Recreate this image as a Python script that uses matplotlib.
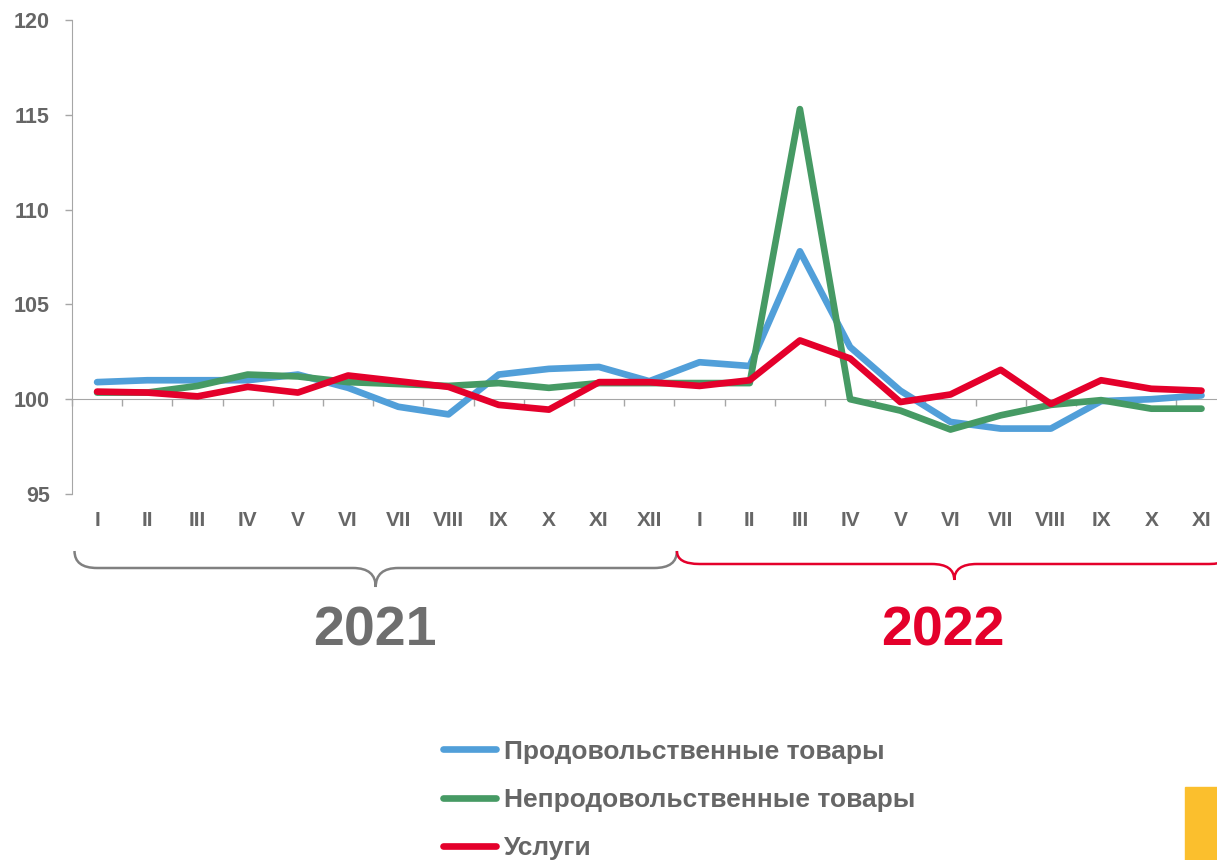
"""
Price indices by month: food, non-food, services (2021-2022).
"""

import matplotlib.pyplot as plt
import matplotlib.transforms as mtransforms
from matplotlib.path import Path
from matplotlib.patches import PathPatch, Rectangle

# data
months = ['I', 'II', 'III', 'IV', 'V', 'VI', 'VII', 'VIII', 'IX', 'X', 'XI', 'XII',
          'I', 'II', 'III', 'IV', 'V', 'VI', 'VII', 'VIII', 'IX', 'X', 'XI']
food = [100.9, 101.0, 101.0, 101.0, 101.3, 100.6, 99.6, 99.2, 101.3, 101.6, 101.7, 100.95,
        101.95, 101.75, 107.8, 102.75, 100.45, 98.8, 98.45, 98.45, 99.9, 100.0, 100.2]
nonfood = [100.35, 100.35, 100.7, 101.3, 101.2, 100.9, 100.8, 100.7, 100.85, 100.6, 100.85, 100.85,
           100.85, 100.85, 115.3, 100.0, 99.4, 98.4, 99.15, 99.7, 99.95, 99.5, 99.5]
services = [100.4, 100.35, 100.15, 100.65, 100.35, 101.25, 100.95, 100.65, 99.7, 99.45, 100.9, 100.9,
            100.7, 101.0, 103.1, 102.15, 99.85, 100.25, 101.55, 99.75, 101.0, 100.55, 100.45]
labels = ['Продовольственные товары', 'Непродовольственные товары', 'Услуги']
years = ['2021', '2022']

blue = '#519FD9'
green = '#469A64'
red = '#E4002B'
grey_txt = '#666666'
axis_col = '#A6A6A6'

W, H = 1217, 860
fig = plt.figure(figsize=(W / 100, H / 100), dpi=100)

# plot area in pixels: left 72, top 20 (120), bottom 494 (95), 50.2 px per month
n = len(months)
step = 50.2
ax = fig.add_axes([72 / W, 1 - 494 / H, n * step / W, 474 / H])

x = list(range(n))
ax.plot(x, food, color=blue, lw=4.8, solid_capstyle='round', solid_joinstyle='round', label=labels[0], zorder=3)
ax.plot(x, nonfood, color=green, lw=4.8, solid_capstyle='round', solid_joinstyle='round', label=labels[1], zorder=4)
ax.plot(x, services, color=red, lw=4.8, solid_capstyle='round', solid_joinstyle='round', label=labels[2], zorder=5)

ax.set_xlim(-0.5, n - 0.5)
ax.set_ylim(95, 120)
ax.set_yticks([95, 100, 105, 110, 115, 120])
for s in ['top', 'right']:
    ax.spines[s].set_visible(False)
ax.spines['left'].set_color(axis_col)
ax.spines['bottom'].set_color(axis_col)
ax.spines['bottom'].set_position(('data', 100))
ax.set_xticks([i - 0.5 for i in range(n + 1)])
ax.set_xticklabels([])
ax.tick_params(axis='x', direction='out', length=5, color=axis_col, width=1)
ax.tick_params(axis='y', direction='out', length=5, color=axis_col, width=1, pad=11)
for t in ax.get_yticklabels():
    t.set_fontsize(15.5)
    t.set_fontweight('bold')
    t.set_color(grey_txt)
    t.set_family(['Liberation Sans', 'DejaVu Sans'])

font = ['Liberation Sans', 'DejaVu Sans']
trans = mtransforms.blended_transform_factory(ax.transData, ax.transAxes)
for i, m in enumerate(months):
    ax.text(i, -0.055, m, transform=trans, ha='center', va='center', fontsize=15,
            fontweight='bold', color=grey_txt, family=font, clip_on=False)

# braces under the month labels (x in data, y in figure pixels)
btrans = mtransforms.blended_transform_factory(ax.transData, fig.transFigure)


def brace(x0, x1, top, mid, tip, color):
    r = 0.45
    xm = (x0 + x1) / 2
    fy = lambda p: 1 - p / H
    verts = [(x0, fy(top)), (x0, fy(mid)), (x0 + r, fy(mid)),
             (xm - r, fy(mid)), (xm, fy(mid)), (xm, fy(tip)),
             (xm, fy(mid)), (xm + r, fy(mid)),
             (x1 - r, fy(mid)), (x1, fy(mid)), (x1, fy(top))]
    codes = [Path.MOVETO, Path.CURVE3, Path.CURVE3,
             Path.LINETO, Path.CURVE3, Path.CURVE3,
             Path.CURVE3, Path.CURVE3,
             Path.LINETO, Path.CURVE3, Path.CURVE3]
    p = PathPatch(Path(verts, codes), transform=btrans, fill=False, ec=color, lw=1.8, clip_on=False)
    fig.patches.append(p)


brace(-0.45, 11.55, 551, 568, 587, '#808080')
brace(11.55, 22.6, 551, 564, 580, red)

fig.text(375 / W, 1 - 632 / H, years[0], ha='center', va='center', fontsize=40,
         fontweight='bold', color='#6E6E6E', family=font)
fig.text(943 / W, 1 - 632 / H, years[1], ha='center', va='center', fontsize=40,
         fontweight='bold', color=red, family=font)

leg = fig.legend(loc='center left', bbox_to_anchor=(443 / W, 1 - 800 / H), frameon=False,
                 handlelength=2.0, handletextpad=0.3, labelspacing=0.92, borderaxespad=0,
                 borderpad=0, prop={'family': font, 'weight': 'bold', 'size': 19})
for t in leg.get_texts():
    t.set_color(grey_txt)

fig.patches.append(Rectangle((1185 / W, 0), 32 / W, 73 / H, transform=fig.transFigure,
                             color='#FBBF2D', zorder=0))

fig.savefig('out.png', dpi=100)
